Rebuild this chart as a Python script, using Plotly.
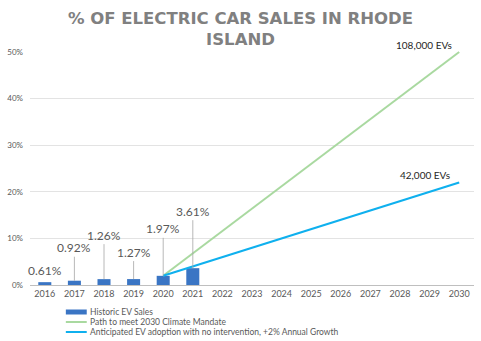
import plotly.graph_objects as go

# ---- data ----
years = [str(y) for y in range(2016, 2031)]
hist_years = ["2016", "2017", "2018", "2019", "2020", "2021"]
hist_pct = [0.61, 0.92, 1.26, 1.27, 1.97, 3.61]
hist_labels = ["0.61%", "0.92%", "1.26%", "1.27%", "1.97%", "3.61%"]
mandate_years = ["2020", "2030"]
mandate_pct = [1.97, 50]
baseline_years = ["2020", "2030"]
baseline_pct = [1.97, 22]
end_labels = ["108,000 EVs", "42,000 EVs"]
y_ticks = [0, 10, 20, 30, 40, 50]

# label offsets above bar tops (pixels) - layout only
label_offsets_px = [12, 33, 44, 27, 47, 57]

FONT = "Lato"
GRAY = "#595959"
W, H = 481, 341
ML, MR, MT, MB = 28, 7, 51, 56
PW, PH = W - ML - MR, H - MT - MB

BAR_C, GREEN_C, BLUE_C = "#3A75C4", "#A9D9A0", "#0FB0EE"

fig = go.Figure()
fig.add_trace(go.Bar(
    x=hist_years, y=hist_pct, name="Historic EV Sales",
    marker=dict(color=BAR_C, line=dict(width=0)), width=0.44,
))
fig.add_trace(go.Scatter(
    x=mandate_years, y=mandate_pct, mode="lines",
    name="Path to meet 2030 Climate Mandate",
    line=dict(color=GREEN_C, width=2),
))
fig.add_trace(go.Scatter(
    x=baseline_years, y=baseline_pct, mode="lines",
    name="Anticipated EV adoption with no intervention, +2% Annual Growth",
    line=dict(color=BLUE_C, width=2.2),
))

annotations = []
shapes = []
for yr, v, lab, off in zip(hist_years, hist_pct, hist_labels, label_offsets_px):
    annotations.append(dict(
        x=years.index(yr), y=v, xref="x", yref="y", text=lab,
        showarrow=off > 20, arrowhead=0, arrowwidth=0.8, arrowcolor="#A6A6A6",
        ax=0, ay=-off, yshift=0 if off > 20 else off, standoff=0,
        font=dict(family=FONT, size=12, color=GRAY),
    ))
annotations.append(dict(
    x=years.index(mandate_years[-1]), y=mandate_pct[-1], xref="x", yref="y",
    text=end_labels[0], showarrow=False, xanchor="right", yanchor="bottom",
    xshift=-5, yshift=-1, font=dict(family=FONT, size=10, color="#262626"),
))
annotations.append(dict(
    x=years.index(baseline_years[-1]), y=baseline_pct[-1], xref="x", yref="y",
    text=end_labels[1], showarrow=False, xanchor="right", yanchor="bottom",
    xshift=-7, yshift=-1, font=dict(family=FONT, size=10, color="#262626"),
))

# custom compact legend (below the axis)
def px2paper(px, py):
    return (px - ML) / PW, (H - MB - py) / PH

legend_items = [(fig.data[0].name, BAR_C, "bar"),
                (fig.data[1].name, GREEN_C, "line"),
                (fig.data[2].name, BLUE_C, "line")]
for i, (name, col, kind) in enumerate(legend_items):
    cy = 312 + i * 10
    x0, y0 = px2paper(64, cy + (2.5 if kind == "bar" else 1))
    x1, y1 = px2paper(85, cy - (2.5 if kind == "bar" else 1))
    shapes.append(dict(type="rect", xref="paper", yref="paper",
                       x0=x0, x1=x1, y0=y0, y1=y1,
                       fillcolor=col, line=dict(width=0)))
    tx, ty = px2paper(86, cy)
    annotations.append(dict(
        x=tx, y=ty, xref="paper", yref="paper", text=name, showarrow=False,
        xanchor="left", yanchor="middle",
        font=dict(family=FONT, size=8.5, color=GRAY),
    ))

fig.update_layout(
    width=W, height=H,
    margin=dict(l=ML, r=MR, t=MT, b=MB),
    paper_bgcolor="white", plot_bgcolor="white",
    title=dict(
        text="% OF ELECTRIC CAR SALES IN RHODE<br>ISLAND",
        x=0.5, xanchor="center", y=0.93, yanchor="top",
        font=dict(family="DejaVu Sans", size=16.5, color="#808080", weight="bold"),
    ),
    showlegend=False,
    annotations=annotations,
    shapes=shapes,
)
fig.update_xaxes(
    type="category", categoryorder="array", categoryarray=years,
    range=[-0.5, 14.5], showgrid=False, showline=True,
    linecolor="#BFBFBF", linewidth=1, ticks="",
    tickfont=dict(family=FONT, size=9, color=GRAY),
)
fig.update_yaxes(
    range=[0, 50.2], tickvals=y_ticks, ticktext=[f"{t}%" for t in y_ticks],
    showgrid=True, gridcolor="#E3E3E3", gridwidth=1, zeroline=False,
    showline=False, ticks="", ticklabelstandoff=6,
    tickfont=dict(family=FONT, size=8, color=GRAY),
)

fig.write_html("out.html")
